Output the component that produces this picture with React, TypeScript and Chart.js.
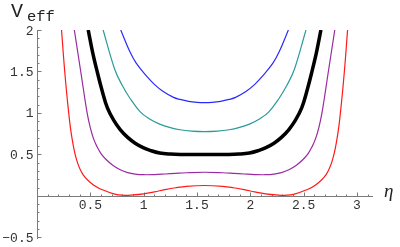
import React, { useEffect, useRef } from "react";
import { Chart, registerables } from "chart.js";
Chart.register(...registerables);

// ---- data ----
const etaRed = [0.23, 0.26, 0.294, 0.325, 0.37, 0.43, 0.53, 0.62, 0.72, 0.8, 0.9, 1.0, 1.1, 1.2, 1.3, 1.4, 1.5708, 1.7416, 1.8416, 1.9416, 2.0416, 2.1416, 2.2416, 2.3416, 2.4216, 2.5216, 2.6116, 2.7116, 2.7716, 2.8166, 2.8476, 2.8816, 2.9116];
const vRed = [2.0, 1.5, 1.04, 0.72, 0.44, 0.26, 0.13, 0.07, 0.025, 0.008, 0.012, 0.025, 0.048, 0.075, 0.098, 0.115, 0.125, 0.115, 0.098, 0.075, 0.048, 0.025, 0.012, 0.008, 0.025, 0.07, 0.13, 0.26, 0.44, 0.72, 1.04, 1.5, 2.0];

const etaPurple = [0.35, 0.41, 0.47, 0.5, 0.53, 0.56, 0.6, 0.65, 0.71, 0.78, 0.85, 0.92, 1.0, 1.1, 1.2, 1.3, 1.4, 1.5708, 1.7416, 1.8416, 1.9416, 2.0416, 2.1416, 2.2216, 2.2916, 2.3616, 2.4316, 2.4916, 2.5416, 2.5816, 2.6116, 2.6416, 2.6716, 2.7316, 2.7916];
const vPurple = [2.0, 1.5, 1.0, 0.82, 0.69, 0.6, 0.51, 0.435, 0.37, 0.315, 0.28, 0.262, 0.255, 0.257, 0.264, 0.272, 0.279, 0.285, 0.279, 0.272, 0.264, 0.257, 0.255, 0.262, 0.28, 0.315, 0.37, 0.435, 0.51, 0.6, 0.69, 0.82, 1.0, 1.5, 2.0];

const etaBlack = [0.48, 0.52, 0.56, 0.61, 0.66, 0.72, 0.78, 0.85, 0.92, 1.0, 1.06, 1.15, 1.25, 1.35, 1.5708, 1.7916, 1.8916, 1.9916, 2.0816, 2.1416, 2.2216, 2.2916, 2.3616, 2.4216, 2.4816, 2.5316, 2.5816, 2.6216, 2.6616];
const vBlack = [2.0, 1.74, 1.52, 1.27, 1.06, 0.91, 0.8, 0.705, 0.635, 0.578, 0.548, 0.517, 0.504, 0.5, 0.5, 0.5, 0.504, 0.517, 0.548, 0.578, 0.635, 0.705, 0.8, 0.91, 1.06, 1.27, 1.52, 1.74, 2.0];

const etaTeal = [0.62, 0.73, 0.8, 0.87, 0.97, 1.06, 1.15, 1.25, 1.34, 1.45, 1.5708, 1.6916, 1.8016, 1.8916, 1.9916, 2.0816, 2.1716, 2.2716, 2.3416, 2.4116, 2.5216];
const vTeal = [2.0, 1.52, 1.33, 1.18, 1.01, 0.925, 0.865, 0.822, 0.797, 0.781, 0.775, 0.781, 0.797, 0.822, 0.865, 0.925, 1.01, 1.18, 1.33, 1.52, 2.0];

const etaBlue = [0.785, 0.87, 0.93, 1.03, 1.1, 1.18, 1.28, 1.34, 1.42, 1.5, 1.5708, 1.6416, 1.7216, 1.8016, 1.8616, 1.9616, 2.0416, 2.1116, 2.2116, 2.2716, 2.3566];
const vBlue = [2.0, 1.74, 1.6, 1.44, 1.345, 1.262, 1.188, 1.163, 1.14, 1.128, 1.125, 1.128, 1.14, 1.163, 1.188, 1.262, 1.345, 1.44, 1.6, 1.74, 2.0];

const xTickValues = [0.5, 1, 1.5, 2, 2.5, 3];
const xTickLabels = ["0.5", "1", "1.5", "2", "2.5", "3"];
const yTickValues = [-0.5, 0.5, 1, 1.5, 2];
const yTickLabels = ["\u22120.5", "0.5", "1", "1.5", "2"];

const X_MIN = 0;
const X_MAX = 3.15;
const Y_MIN = -0.52;
const Y_MAX = 2;

const pts = (xs: number[], ys: number[]) => xs.map((x, i) => ({ x, y: ys[i] }));

const axesPlugin = {
  id: "mmaAxes",
  beforeDatasetsDraw(chart: any) {
    const ctx = chart.ctx as CanvasRenderingContext2D;
    const xs = chart.scales.x;
    const ys = chart.scales.y;
    const x0 = Math.round(xs.getPixelForValue(0)) + 0.5;
    const y0 = Math.round(ys.getPixelForValue(0)) + 0.5;
    ctx.save();
    ctx.strokeStyle = "#7a7a7a";
    ctx.lineWidth = 1;
    ctx.beginPath();
    ctx.moveTo(xs.getPixelForValue(X_MIN), y0);
    ctx.lineTo(xs.getPixelForValue(X_MAX), y0);
    ctx.moveTo(x0, ys.getPixelForValue(Y_MAX));
    ctx.lineTo(x0, ys.getPixelForValue(Y_MIN));
    for (let i = 1; i <= 31; i++) {
      const v = i / 10;
      const px = Math.round(xs.getPixelForValue(v)) + 0.5;
      const major = i % 5 === 0;
      ctx.moveTo(px, y0);
      ctx.lineTo(px, y0 - (major ? 4 : 2));
    }
    for (let i = -5; i <= 20; i++) {
      if (i === 0) continue;
      const v = i / 10;
      const py = Math.round(ys.getPixelForValue(v)) + 0.5;
      const major = i % 5 === 0;
      ctx.moveTo(x0, py);
      ctx.lineTo(x0 + (major ? 4 : 2), py);
    }
    ctx.stroke();

    ctx.fillStyle = "#333";
    ctx.font = "13px 'Liberation Mono', monospace";
    ctx.textAlign = "center";
    ctx.textBaseline = "alphabetic";
    xTickValues.forEach((v, i) => {
      ctx.fillText(xTickLabels[i], xs.getPixelForValue(v), y0 + 12.5);
    });
    ctx.textAlign = "right";
    yTickValues.forEach((v, i) => {
      ctx.fillText(yTickLabels[i], x0 - 4, ys.getPixelForValue(v) + 4.5);
    });

    ctx.textAlign = "left";
    ctx.fillStyle = "#222";
    ctx.font = "20px 'Liberation Mono', monospace";
    ctx.fillText("V", 11, 17);
    ctx.font = "15.5px 'Liberation Mono', monospace";
    ctx.fillText("eff", 27, 21);
    ctx.font = "italic 19px 'Liberation Serif', serif";
    ctx.fillText("\u03b7", 384, 197);
    ctx.restore();
  },
};

export default function App() {
  const ref = useRef<HTMLCanvasElement | null>(null);
  useEffect(() => {
    if (!ref.current) return;
    const mk = (label: string, xs: number[], ys: number[], color: string, w: number) => ({
      label,
      data: pts(xs, ys),
      showLine: true,
      borderColor: color,
      backgroundColor: color,
      borderWidth: w,
      pointRadius: 0,
      tension: 0.4,
      clip: 0,
    });
    const chart = new Chart(ref.current, {
      type: "scatter",
      data: {
        datasets: [
          mk("red", etaRed, vRed, "#ff1a1a", 1.2),
          mk("purple", etaPurple, vPurple, "#9a2aa0", 1.2),
          mk("black", etaBlack, vBlack, "#000000", 3.5),
          mk("teal", etaTeal, vTeal, "#2a9a9a", 1.2),
          mk("blue", etaBlue, vBlue, "#2a2aff", 1.2),
        ],
      },
      options: {
        animation: false,
        responsive: true,
        maintainAspectRatio: false,
        layout: { padding: { left: 37, right: 27, top: 30, bottom: 8 } },
        plugins: { legend: { display: false }, tooltip: { enabled: false } },
        scales: {
          x: { type: "linear", min: X_MIN, max: X_MAX, display: false },
          y: { type: "linear", min: Y_MIN, max: Y_MAX, display: false },
        },
      },
      plugins: [axesPlugin],
    });
    return () => chart.destroy();
  }, []);
  return (
    <div style={{ position: "fixed", left: 0, top: 0, width: 400, height: 247, background: "#fff" }}>
      <canvas ref={ref} />
    </div>
  );
}
